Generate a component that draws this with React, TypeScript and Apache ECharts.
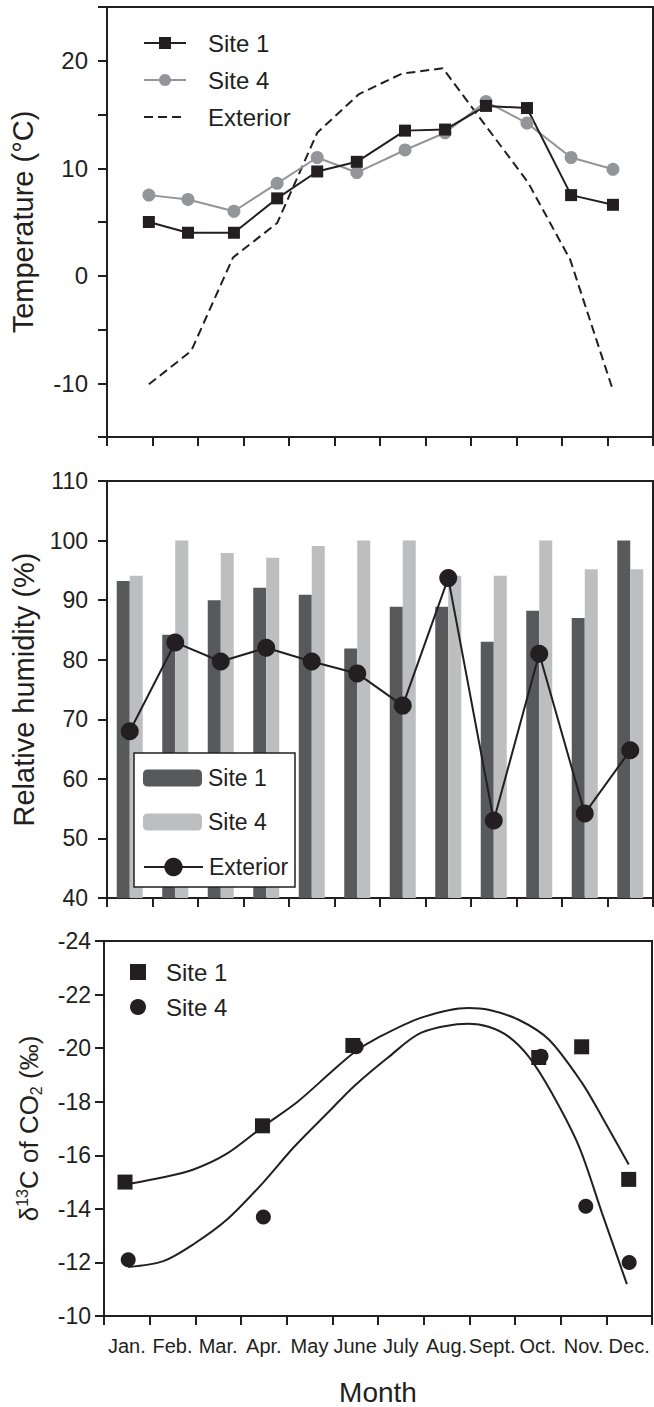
import React, { useEffect, useRef } from 'react';
import * as echarts from 'echarts';

// ---------- data ----------
const months = ['Jan.', 'Feb.', 'Mar.', 'Apr.', 'May', 'June', 'July', 'Aug.', 'Sept.', 'Oct.', 'Nov.', 'Dec.'];

// Temperature panel (x in month units, 0 = start of Jan.)
const tempX = [0.92, 1.78, 2.79, 3.74, 4.62, 5.49, 6.55, 7.43, 8.33, 9.23, 10.2, 11.12];
const tempSite1 = [5.0, 4.0, 4.0, 7.2, 9.7, 10.6, 13.5, 13.6, 15.8, 15.6, 7.5, 6.6];
const tempSite4 = [7.5, 7.1, 6.0, 8.6, 11.0, 9.6, 11.7, 13.3, 16.2, 14.2, 11.0, 9.9];
const extX = [0.92, 1.85, 2.77, 3.74, 4.62, 5.54, 6.48, 7.38, 9.25, 10.18, 11.1];
const extTemp = [-10.1, -7.0, 1.7, 4.9, 13.3, 16.9, 18.8, 19.3, 8.7, 1.5, -10.4];

// Relative humidity panel
const rhSite1 = [93.2, 84.2, 90.0, 92.1, 90.9, 81.9, 88.9, 88.9, 83.0, 88.2, 87.0, 100];
const rhSite4 = [94.1, 100, 97.9, 97.1, 99.1, 100, 100, 94.1, 94.1, 100, 95.2, 95.2];
const rhExterior = [68.0, 82.9, 79.7, 82.0, 79.7, 77.7, 72.3, 93.7, 53.0, 81.0, 54.2, 64.8];

// d13C panel
const d13Site1X = [0.46, 3.47, 5.45, 9.52, 10.46, 11.49];
const d13Site1 = [-15.0, -17.1, -20.1, -19.65, -20.05, -15.1];
const d13Site4X = [0.53, 3.49, 5.52, 9.57, 10.55, 11.5];
const d13Site4 = [-12.1, -13.7, -20.05, -19.7, -14.1, -12.0];
const fit1X = [0.53, 1.3, 1.96, 2.7, 3.49, 4.24, 4.97, 5.47, 6.0, 6.95, 7.98, 8.42, 9.08, 9.74, 10.46, 10.9, 11.49];
const fit1Y = [-14.93, -15.18, -15.47, -16.07, -17.08, -18.0, -19.1, -19.83, -20.39, -21.14, -21.5, -21.43, -21.06, -20.32, -18.72, -17.45, -15.66];
const fit2X = [0.53, 1.3, 1.96, 2.7, 3.49, 4.15, 4.97, 5.47, 6.22, 6.95, 7.98, 8.42, 8.86, 9.3, 9.8, 10.4, 10.9, 11.45];
const fit2Y = [-11.83, -12.05, -12.68, -13.61, -14.99, -16.29, -17.71, -18.57, -19.65, -20.58, -20.91, -20.8, -20.43, -19.68, -18.34, -16.33, -13.87, -11.19];

const legendLabels: Record<string, string> = {
  'T Site 1': 'Site 1',
  'T Site 4': 'Site 4',
  'T Exterior': 'Exterior',
  'RH Site 1': 'Site 1',
  'RH Site 4': 'Site 4',
  'RH Exterior': 'Exterior',
  'D Site 1': 'Site 1',
  'D Site 4': 'Site 4',
};

// ---------- styles ----------
const FONT = '"Liberation Sans", Arial, Helvetica, sans-serif';
const INK = '#231f20';
const GRAY_LINE = '#939598';
const BAR1 = '#58595b';
const BAR4 = '#bcbec0';

const zip = (xs: number[], ys: number[]) => xs.map((x, i) => [x, ys[i]]);

const axisLine = { show: true, onZero: false, lineStyle: { color: INK, width: 2 } };
const axisTick = { show: true, length: 9, inside: false, lineStyle: { color: INK, width: 2 } };

function catAxis(gridIndex: number, showLabels: boolean, extra: any = {}) {
  return {
    type: 'category',
    gridIndex,
    data: months,
    boundaryGap: true,
    axisLine,
    axisTick: { ...axisTick, interval: 0 },
    axisLabel: showLabels
      ? { show: true, interval: 0, fontSize: 20, margin: 20, color: INK, fontFamily: FONT }
      : { show: false },
    splitLine: { show: false },
    ...extra,
  };
}

function hiddenValueX(gridIndex: number) {
  return { type: 'value', gridIndex, min: 0, max: 12, show: false, splitLine: { show: false } };
}

const legendText = (size: number, padLeft: number) => ({
  fontSize: size,
  lineHeight: 24,
  color: INK,
  fontFamily: FONT,
  padding: [0, 0, 0, padLeft],
});

const option: any = {
  animation: false,
  backgroundColor: '#ffffff',
  textStyle: { fontFamily: FONT, color: INK },
  grid: [
    { left: 107, top: 7, width: 546, height: 430, show: true, borderColor: INK, borderWidth: 2, backgroundColor: 'transparent' },
    { left: 107, top: 481, width: 546, height: 417, show: true, borderColor: INK, borderWidth: 2, backgroundColor: 'transparent' },
    { left: 104, top: 941, width: 548, height: 377, show: true, borderColor: INK, borderWidth: 2, backgroundColor: 'transparent' },
  ],
  xAxis: [
    catAxis(0, false),
    hiddenValueX(0),
    catAxis(1, false),
    catAxis(2, true, {
      name: 'Month',
      nameLocation: 'middle',
      nameGap: 62,
      nameTextStyle: { fontSize: 28, color: INK, fontFamily: FONT },
    }),
    hiddenValueX(2),
  ],
  yAxis: [
    {
      type: 'value',
      gridIndex: 0,
      min: -15,
      max: 25,
      interval: 5,
      axisLine,
      axisTick,
      splitLine: { show: false },
      axisLabel: {
        fontSize: 24,
        margin: 19,
        color: INK,
        fontFamily: FONT,
        formatter: (v: number) => (v % 10 === 0 ? String(v) : ''),
      },
      name: 'Temperature (°C)',
      nameLocation: 'middle',
      nameRotate: 90,
      nameGap: 70,
      nameTextStyle: { fontSize: 29, color: INK, fontFamily: FONT },
    },
    {
      type: 'value',
      gridIndex: 1,
      min: 40,
      max: 110,
      interval: 10,
      axisLine,
      axisTick,
      splitLine: { show: false },
      axisLabel: { fontSize: 23, margin: 19, color: INK, fontFamily: FONT },
      name: 'Relative humidity (%)',
      nameLocation: 'middle',
      nameRotate: 90,
      nameGap: 66,
      nameTextStyle: { fontSize: 29, color: INK, fontFamily: FONT },
    },
    {
      type: 'value',
      gridIndex: 2,
      min: -24,
      max: -10,
      interval: 2,
      inverse: true,
      axisLine,
      axisTick,
      splitLine: { show: false },
      axisLabel: { fontSize: 23, margin: 13, color: INK, fontFamily: FONT },
      name: '{a|δ}{s|13}{a|C of CO}{b|2}{a| (‰)}',
      nameLocation: 'middle',
      nameRotate: 90,
      nameGap: 60,
      nameTextStyle: {
        color: INK,
        fontFamily: FONT,
        rich: {
          a: { fontSize: 26, lineHeight: 30, color: INK, fontFamily: FONT },
          s: { fontSize: 16, lineHeight: 16, verticalAlign: 'top', color: INK, fontFamily: FONT },
          b: { fontSize: 16, lineHeight: 16, verticalAlign: 'bottom', color: INK, fontFamily: FONT },
        },
      },
    },
  ],
  legend: [
    {
      orient: 'vertical',
      left: 143,
      top: 31,
      padding: 0,
      itemGap: 13,
      itemWidth: 42,
      itemHeight: 15,
      selectedMode: false,
      data: [
        'T Site 1',
        'T Site 4',
        { name: 'T Exterior', itemStyle: { color: 'rgba(0,0,0,0)', opacity: 0, borderWidth: 0 } },
      ],
      formatter: (n: string) => legendLabels[n] ?? n,
      textStyle: legendText(24, 17),
    },
    {
      orient: 'vertical',
      left: 143,
      top: 766,
      padding: 0,
      itemGap: 20,
      itemWidth: 59,
      itemHeight: 17,
      selectedMode: false,
      data: ['RH Site 1', 'RH Site 4'],
      formatter: (n: string) => legendLabels[n] ?? n,
      textStyle: legendText(23, 1),
    },
    {
      orient: 'vertical',
      left: 143,
      top: 855,
      padding: 0,
      itemWidth: 59,
      itemHeight: 23,
      selectedMode: false,
      data: ['RH Exterior'],
      formatter: (n: string) => legendLabels[n] ?? n,
      textStyle: legendText(23, 1),
    },
    {
      orient: 'vertical',
      left: 130,
      top: 960,
      padding: 0,
      itemGap: 11,
      itemWidth: 16,
      itemHeight: 16,
      selectedMode: false,
      data: ['D Site 1', 'D Site 4'],
      formatter: (n: string) => legendLabels[n] ?? n,
      textStyle: legendText(24, 15),
    },
  ],
  graphic: [
    {
      type: 'rect',
      z: 3,
      shape: { x: 134, y: 753, width: 161, height: 134 },
      style: { fill: '#ffffff', stroke: INK, lineWidth: 1.5 },
    },
  ],
  series: [
    // Temperature
    {
      type: 'line',
      name: 'T Exterior',
      xAxisIndex: 1,
      yAxisIndex: 0,
      data: zip(extX, extTemp),
      symbol: 'none',
      lineStyle: { color: INK, width: 2, type: [9, 5] },
      itemStyle: { color: INK },
    },
    {
      type: 'line',
      name: 'T Site 4',
      xAxisIndex: 1,
      yAxisIndex: 0,
      data: zip(tempX, tempSite4),
      symbol: 'circle',
      symbolSize: 13,
      lineStyle: { color: GRAY_LINE, width: 2 },
      itemStyle: { color: GRAY_LINE },
    },
    {
      type: 'line',
      name: 'T Site 1',
      xAxisIndex: 1,
      yAxisIndex: 0,
      data: zip(tempX, tempSite1),
      symbol: 'rect',
      symbolSize: 12,
      lineStyle: { color: INK, width: 2 },
      itemStyle: { color: INK },
    },
    // Relative humidity
    {
      type: 'bar',
      name: 'RH Site 1',
      xAxisIndex: 2,
      yAxisIndex: 1,
      data: rhSite1,
      barWidth: 13,
      barGap: '0%',
      clip: true,
      itemStyle: { color: BAR1 },
    },
    {
      type: 'bar',
      name: 'RH Site 4',
      xAxisIndex: 2,
      yAxisIndex: 1,
      data: rhSite4,
      barWidth: 13,
      barGap: '0%',
      clip: true,
      itemStyle: { color: BAR4 },
    },
    {
      type: 'line',
      name: 'RH Exterior',
      xAxisIndex: 2,
      yAxisIndex: 1,
      data: rhExterior,
      symbol: 'circle',
      symbolSize: 18,
      z: 3,
      lineStyle: { color: INK, width: 2 },
      itemStyle: { color: INK },
    },
    // d13C
    {
      type: 'line',
      name: 'fit Site 1',
      xAxisIndex: 4,
      yAxisIndex: 2,
      data: zip(fit1X, fit1Y),
      symbol: 'none',
      smooth: 0.3,
      lineStyle: { color: INK, width: 2 },
    },
    {
      type: 'line',
      name: 'fit Site 4',
      xAxisIndex: 4,
      yAxisIndex: 2,
      data: zip(fit2X, fit2Y),
      symbol: 'none',
      smooth: 0.3,
      lineStyle: { color: INK, width: 2 },
    },
    {
      type: 'scatter',
      name: 'D Site 1',
      xAxisIndex: 4,
      yAxisIndex: 2,
      data: zip(d13Site1X, d13Site1),
      symbol: 'rect',
      symbolSize: 15,
      itemStyle: { color: INK, opacity: 1 },
    },
    {
      type: 'scatter',
      name: 'D Site 4',
      xAxisIndex: 4,
      yAxisIndex: 2,
      data: zip(d13Site4X, d13Site4),
      symbol: 'circle',
      symbolSize: 15,
      itemStyle: { color: INK, opacity: 1 },
    },
  ],
};

export default function App() {
  const ref = useRef<HTMLDivElement>(null);
  useEffect(() => {
    document.body.style.margin = '0';
    const chart = echarts.init(ref.current as HTMLDivElement, null, { renderer: 'svg' });
    chart.setOption(option);
    return () => chart.dispose();
  }, []);
  return <div ref={ref} style={{ width: 654, height: 1407, background: '#fff' }} />;
}
